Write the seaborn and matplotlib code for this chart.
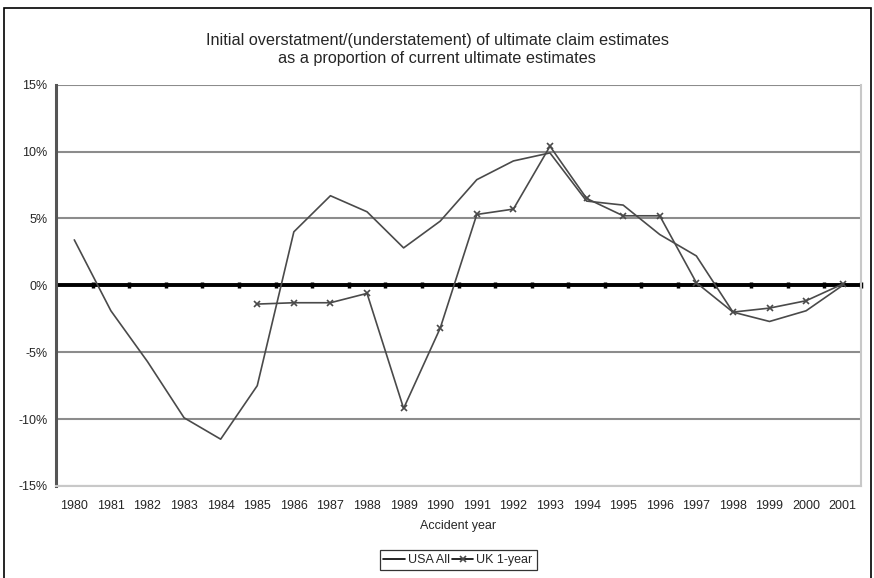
import numpy as np
import pandas as pd
import matplotlib
matplotlib.use("Agg")
import matplotlib.pyplot as plt
import seaborn as sns
from matplotlib.patches import Rectangle

# Dados
years = list(range(1980, 2002))
usa_all = [3.4, -1.9, -5.7, -9.9, -11.5, -7.5, 4.0, 6.7, 5.5, 2.8, 4.8,
           7.9, 9.3, 9.9, 6.3, 6.0, 3.8, 2.2, -2.0, -2.7, -1.9, 0.0]
uk_1year = [np.nan, np.nan, np.nan, np.nan, np.nan, -1.4, -1.3, -1.3, -0.6, -9.2, -3.2,
            5.3, 5.7, 10.4, 6.5, 5.2, 5.2, 0.2, -2.0, -1.7, -1.15, 0.1]

title = "Initial overstatment/(understatement) of ultimate claim estimates\nas a proportion of current ultimate estimates"

df = pd.DataFrame({"pos": np.arange(len(years)), "year": years,
                   "USA All": usa_all, "UK 1-year": uk_1year})

sns.set_style("white")
plt.rcParams["font.family"] = ["Liberation Sans", "DejaVu Sans"]

fig = plt.figure(figsize=(8.74, 5.78), dpi=100)
ax = fig.add_axes([56 / 874, 1 - 486 / 578, (861 - 56) / 874, (486 - 84.7) / 578])

line_col = "#4a4a4a"
sns.lineplot(data=df, x="pos", y="USA All", ax=ax, color=line_col, lw=1.2,
             label="USA All", legend=False, zorder=3)
sns.lineplot(data=df.dropna(), x="pos", y="UK 1-year", ax=ax, color=line_col, lw=1.2,
             marker="x", markersize=4, markeredgewidth=1.2, markeredgecolor=line_col,
             label="UK 1-year", legend=False, zorder=3)

ax.set_xlim(-0.5, len(years) - 0.5)
ax.set_ylim(-15, 15)

# grades horizontais
for v in [-15, -10, -5, 5, 10, 15]:
    ax.axhline(v, color="#8c8c8c", lw=1.5, zorder=0)

ax.set_yticks([-15, -10, -5, 0, 5, 10, 15])
ax.set_yticklabels([f"{v}%" for v in [-15, -10, -5, 0, 5, 10, 15]], fontsize=9)
ax.set_xticks(df["pos"])
ax.set_xticklabels([str(y) for y in years], fontsize=9)
ax.tick_params(axis="x", length=0, pad=10)
ax.tick_params(axis="y", length=4, width=1, color="#555555", direction="out", pad=2)

ax.spines["top"].set_visible(False)
ax.spines["left"].set_color("#555555")
ax.spines["left"].set_linewidth(2.2)
ax.spines["right"].set_color("#c8c8c8")
ax.spines["right"].set_linewidth(1.5)
ax.spines["bottom"].set_color("#c8c8c8")
ax.spines["bottom"].set_linewidth(1.5)

# eixo das categorias cruzando em 0%
ax.axhline(0, color="black", lw=2.8, zorder=2)
sec = ax.secondary_xaxis(0.5)
sec.set_xticks(df["pos"] + 0.5)
sec.set_xticklabels([])
sec.tick_params(length=4, width=2.5, color="black", direction="inout")
for s in sec.spines.values():
    s.set_visible(False)

ax.set_xlabel("Accident year", fontsize=9, labelpad=6)
ax.set_ylabel("")

fig.text(437 / 874, 1 - 49 / 578, title, ha="center", va="center", fontsize=11.7,
         linespacing=1.25)

handles, labels = ax.get_legend_handles_labels()
leg = fig.legend(handles, labels, loc="center", bbox_to_anchor=(458 / 874, 1 - 560 / 578),
                 ncol=2, fontsize=9, frameon=True, fancybox=False, handlelength=1.7,
                 handletextpad=0.25, columnspacing=0.2, borderpad=0.3)
leg.get_frame().set_edgecolor("black")
leg.get_frame().set_linewidth(0.9)
for h in leg.legend_handles:
    h.set_color("black")

fig.patches.append(Rectangle((4 / 874, -0.02), 867 / 874, 1 - 8 / 578 + 0.02,
                             transform=fig.transFigure, fill=False,
                             edgecolor="black", lw=1.2))

fig.savefig("out.png", dpi=100)
